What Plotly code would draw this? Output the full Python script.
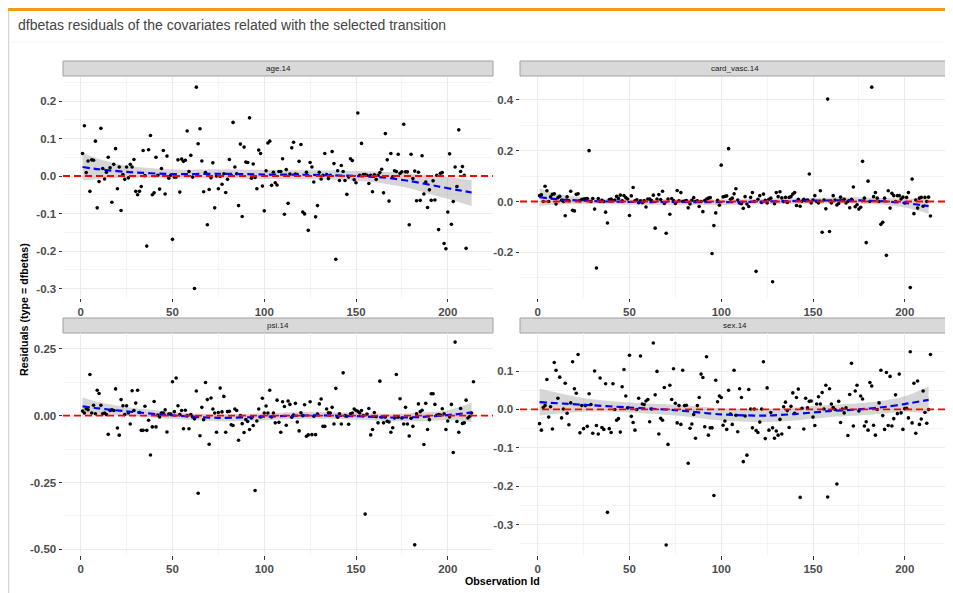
import plotly.graph_objects as go

# ---------------- data ----------------
age_vals = [0.06, 0.134, 0.009, 0.04, -0.041, 0.043, 0.042, 0.093, -0.085, -0.015, 0.127, 0.02, -0.008, 0.01, 0.05,
            0.022, -0.07, 0.031, 0.073, -0.034, 0.024, -0.092, 0.004, -0.009, 0.024, -0.005, 0.031, 0.024, 0.044,
            -0.041, -0.05, -0.041, -0.028, 0.068, 0.001, -0.187, 0.07, 0.108, -0.05, -0.045, 0.05, 0.002, -0.035,
            0.02, 0.068, -0.048, 0.053, -0.006, 0.002, -0.169, -0.003, -0.003, 0.043, -0.043, 0.045, 0.039, 0.042,
            0.12, 0.012, 0.055, -0.003, -0.3, 0.237, 0.086, 0.126, 0.04, -0.042, 0.009, -0.13, -0.036, -0.005, 0.035,
            -0.085, 0.0, -0.034, -0.001, -0.022, 0.006, -0.044,
            -0.009, 0.044, 0.002, 0.143, 0.024, 0.006, -0.079, 0.085, -0.108, 0.077, 0.037, 0.036, 0.155, -0.006,
            0.032, -0.004, -0.034, 0.069, 0.06, -0.027, -0.093, 0.014, 0.088, 0.093, -0.025, 0.01, -0.018, -0.024,
            0.012, 0.012, 0.046, -0.102, 0.017, -0.073, 0.005, 0.075, 0.09, 0.005, 0.004, 0.039, 0.084, -0.096,
            -0.101, 0.01, -0.145, 0.036, 0.024, -0.016, -0.109, -0.079, 0.01, -0.008, 0.002, 0.06, 0.004, -0.007,
            0.002, 0.065, 0.033, -0.222, 0.014, -0.012, 0.028, 0.012, -0.012, -0.049, -0.003, 0.046, 0.041, -0.01,
            -0.018, 0.168, 0.002, 0.087, 0.004, 0.004, 0.002, -0.02, 0.002, -0.042, 0.003, -0.009, 0.002, 0.009,
            0.018, -0.045, 0.113, 0.043, -0.067, 0.06, -0.002, 0.014, 0.012, 0.058, 0.007, 0.011, 0.138, 0.011,
            0.011, -0.13, 0.058, -0.007, 0.013, -0.066, 0.01, -0.065, 0.054, -0.048, -0.016, -0.084, -0.037, -0.065,
            -0.013, -0.064, 0.002, -0.143, 0.007, 0.009, -0.18, -0.194, -0.096, 0.059, -0.129, -0.068, 0.024,
            -0.028, 0.123, 0.012, 0.025, 0.002, -0.193]

card_vals = [0.023, 0.026, 0.0, 0.06, 0.042, 0.0, 0.018, 0.028, 0.03, -0.01, 0.015, 0.02, 0.005, 0.0, -0.056, 0.018,
             0.003, 0.04, -0.035, -0.037, 0.028, 0.03, 0.003, 0.008, 0.01, 0.011, 0.012, 0.2, 0.0, 0.012, -0.03,
             -0.262, 0.012, 0.0, 0.005, 0.0, -0.042, -0.085, 0.008, 0.01, 0.003, 0.006, 0.02, 0.012, 0.025, 0.003,
             0.023, 0.015, 0.01, -0.055, 0.022, 0.055, 0.003, 0.007, -0.005, 0.003, -0.005, 0.004, -0.022, 0.01,
             0.01, 0.004, 0.025, -0.105, 0.01, 0.027, 0.008, 0.04, -0.008, -0.125, 0.01, -0.05, 0.012, 0.004,
             -0.008, 0.043, 0.003, 0.035, 0.0, 0.002, 0.004, -0.025, -0.01, 0.005, 0.015, 0.0, 0.003, -0.02, 0.0,
             -0.04, 0.004, 0.01, 0.013, 0.015, -0.205, -0.095, -0.045, 0.005, -0.015,
             0.143, 0.018, 0.02, 0.022, 0.208, 0.009, 0.013, 0.03, 0.05, 0.006, -0.006, -0.009, -0.027, 0.019,
             -0.01, -0.02, 0.016, 0.035, 0.0, -0.275, 0.009, 0.023, -0.004, 0.029, 0.005, -0.006, 0.009, 0.013,
             -0.316, -0.009, 0.035, 0.019, 0.038, 0.014, 0.0, 0.016, -0.004, 0.016, 0.019, 0.029, 0.035, -0.016,
             0.009, -0.019, 0.001, 0.009, 0.003, 0.006, 0.108, -0.006, 0.006, 0.023, 0.0, -0.006, 0.042, -0.121,
             0.006, -0.029, 0.403, -0.118, -0.006, 0.023, 0.006, -0.014, -0.008, 0.017, 0.004, 0.009, -0.006, 0.0,
             -0.025, 0.009, 0.057, -0.021, -0.013, -0.03, -0.023, 0.158, 0.013, -0.162, 0.08, 0.0, 0.45, 0.019,
             0.035, 0.013, 0.0, -0.09, -0.082, 0.013, -0.212, 0.042, -0.026, 0.032, 0.023, 0.0, 0.023, 0.023, 0.01,
             0.017, -0.006, 0.016, 0.035, -0.339, 0.088, -0.048, 0.006, -0.026, 0.013, 0.016, -0.019, 0.016, 0.0,
             0.017, -0.057]

psi_vals = [0.017, 0.01, 0.026, 0.022, 0.154, 0.01, 0.039, 0.007, 0.095, 0.083, 0.039, 0.007, 0.01, 0.004, -0.07,
            0.019, 0.022, 0.019, 0.1, -0.046, -0.073, 0.06, 0.037, 0.004, 0.037, 0.01, -0.031, 0.093, 0.019, 0.047,
            0.095, 0.012, -0.055, -0.055, 0.035, -0.055, -0.017, -0.147, -0.042, 0.053, -0.042, 0.002, -0.005, 0.01,
            0.01, 0.022, -0.061, 0.006, 0.006, 0.127, 0.015, 0.141, 0.037, 0.004, 0.019, -0.049, 0.02, 0.0, -0.049,
            0.004, -0.005, -0.012, 0.092, -0.29, -0.075, 0.031, -0.015, 0.124, 0.06, -0.107, 0.066, 0.025, 0.01,
            -0.062, 0.012, 0.103, 0.014, 0.072, -0.062, 0.015, 0.016, -0.034, -0.037, 0.025, 0.019,
            -0.092, 0.0, -0.03, -0.063, -0.015, -0.022, -0.052, -0.009, -0.037, -0.28, -0.02, 0.025, -0.005, 0.065,
            0.01, 0.036, 0.01, 0.095, -0.005, 0.01, -0.027, 0.058, -0.025, -0.062, 0.052, 0.034, -0.036, 0.055,
            0.042, -0.006, 0.002, 0.046, -0.024, -0.057, 0.011, 0.0, 0.041, -0.077, -0.072, 0.052, -0.071, -0.002,
            -0.071, 0.006, 0.044, 0.062, -0.04, -0.04, 0.025, 0.011, 0.01, 0.031, -0.031, 0.102, -0.006, 0.007,
            -0.031, 0.16, 0.0, -0.002, -0.032, 0.007, 0.01, 0.025, 0.019, 0.016, 0.01, 0.019, 0.0, -0.368, 0.006,
            0.027, -0.072, -0.052, 0.012, -0.004, -0.027, 0.129, -0.005, -0.027, -0.005, -0.021, -0.024, -0.062,
            -0.045, -0.009, 0.154, -0.006, 0.063, -0.009, -0.031, 0.031, -0.031, -0.076, -0.01, -0.04, -0.483,
            0.007, 0.044, 0.015, 0.02, -0.108, 0.046, -0.052, -0.015, 0.082, 0.082, 0.042, 0.001, 0.004, 0.002,
            0.026, 0.007, -0.052, -0.02, -0.005, 0.042, -0.138, 0.275, -0.022, -0.062, 0.027, -0.029, -0.027,
            0.058, -0.009, -0.002, 0.01, 0.127]

sex_vals = [-0.037, -0.054, 0.005, 0.01, 0.078, -0.02, 0.007, -0.051, 0.122, 0.102, 0.029, 0.084, -0.022, 0.001,
            0.068, -0.01, -0.04, 0.017, 0.124, 0.054, 0.042, 0.143, -0.061, 0.01, -0.05, 0.01, -0.044, 0.041,
            0.013, -0.062, 0.1, -0.042, -0.064, 0.082, -0.047, -0.052, 0.067, -0.268, -0.05, -0.06, 0.067, 0.0,
            -0.028, -0.024, -0.059, 0.059, 0.104, 0.035, 0.004, 0.141, -0.018, -0.034, -0.054, 0.0, 0.029, 0.139,
            0.014, 0.013, 0.022, 0.026, -0.032, 0.001, 0.173, 0.038, 0.099, -0.064, -0.023, -0.028, 0.057, -0.353,
            -0.091, 0.063, 0.026, 0.106, 0.016, -0.035, 0.01, -0.039, 0.102, 0.01, 0.011, -0.14, -0.049, -0.038,
            -0.013, -0.075, 0.01, 0.031, 0.092, 0.083, -0.045, 0.137, -0.067, -0.048, -0.048, -0.224, 0.076, 0.02,
            0.035, 0.031, -0.041, -0.03, -0.052, 0.05, -0.012,
            -0.039, 0.102, -0.015, -0.058, 0.054, 0.031, -0.136, -0.017, -0.119, 0.052, 0.001, -0.048, 0.001,
            -0.055, -0.06, -0.033, 0.001, 0.124, -0.076, 0.056, -0.054, -0.008, -0.048, -0.075, -0.056, -0.067,
            -0.026, -0.064, 0.007, 0.019, -0.003, -0.047, 0.008, 0.043, -0.01, 0.031, 0.053, -0.229, 0.003, -0.051,
            0.029, 0.004, 0.021, 0.022, -0.02, -0.042, 0.014, 0.033, 0.014, 0.044, 0.001, 0.063, -0.228, 0.054,
            0.014, 0.005, 0.0, -0.194, 0.021, -0.034, 0.001, -0.009, 0.004, -0.068, 0.039, 0.12, -0.043, 0.048,
            0.063, -0.004, 0.035, 0.027, -0.043, -0.032, -0.054, 0.07, 0.061, -0.041, -0.067, 0.0, 0.017, 0.102,
            -0.016, -0.052, 0.096, -0.042, 0.086, -0.043, -0.024, 0.038, -0.011, 0.092, -0.009, -0.052, 0.002,
            0.003, -0.022, 0.15, -0.035, 0.068, -0.062, 0.074, -0.039, -0.025, 0.048, -0.008, -0.036, 0.0, 0.143]

# smooth (loess) curves and their confidence bands, read at a few ids
age_sx = [1, 10, 25, 50, 75, 100, 125, 150, 165, 180, 195, 205, 213]
age_fit = [0.024, 0.018, 0.011, 0.005, 0.006, 0.004, 0.003, 0.0, -0.004, -0.014, -0.028, -0.037, -0.044]
age_hi = [0.062, 0.045, 0.027, 0.017, 0.018, 0.016, 0.015, 0.013, 0.011, 0.006, -0.001, -0.006, -0.011]
age_lo = [-0.012, -0.008, -0.005, -0.007, -0.006, -0.008, -0.009, -0.013, -0.02, -0.034, -0.055, -0.068, -0.08]

card_sx = [1, 10, 25, 50, 75, 100, 125, 150, 170, 190, 200, 213]
card_fit = [0.017, 0.009, 0.003, -0.002, -0.002, -0.003, 0.0, 0.003, 0.005, 0.0, -0.006, -0.018]
card_hi = [0.052, 0.03, 0.016, 0.009, 0.009, 0.008, 0.011, 0.014, 0.017, 0.014, 0.012, 0.012]
card_lo = [-0.018, -0.012, -0.01, -0.013, -0.013, -0.014, -0.011, -0.008, -0.007, -0.014, -0.024, -0.048]

psi_sx = [1, 10, 25, 50, 75, 100, 125, 150, 170, 185, 200, 213]
psi_fit = [0.035, 0.027, 0.016, 0.001, -0.008, -0.004, 0.001, -0.002, -0.007, -0.005, 0.002, 0.012]
psi_hi = [0.068, 0.05, 0.032, 0.014, 0.005, 0.009, 0.014, 0.011, 0.007, 0.011, 0.02, 0.048]
psi_lo = [0.002, 0.004, 0.0, -0.012, -0.021, -0.017, -0.012, -0.015, -0.021, -0.021, -0.016, -0.024]

sex_sx = [1, 25, 50, 75, 100, 125, 140, 160, 175, 190, 200, 213]
sex_fit = [0.019, 0.012, 0.005, -0.002, -0.013, -0.016, -0.012, -0.004, 0.0, 0.007, 0.014, 0.025]
sex_hi = [0.054, 0.03, 0.018, 0.012, 0.003, 0.001, 0.005, 0.012, 0.016, 0.024, 0.034, 0.06]
sex_lo = [-0.016, -0.006, -0.008, -0.016, -0.029, -0.033, -0.029, -0.02, -0.016, -0.01, -0.006, -0.01]

strip_labels = ["age.14", "card_vasc.14", "psi.14", "sex.14"]
x_ticks = [0, 50, 100, 150, 200]
x_minor = [25, 75, 125, 175]
age_yticks = [-0.3, -0.2, -0.1, 0.0, 0.1, 0.2]
card_yticks = [-0.2, 0.0, 0.2, 0.4]
psi_yticks = [-0.5, -0.25, 0.0, 0.25]
sex_yticks = [-0.3, -0.2, -0.1, 0.0, 0.1]

title_text = "dfbetas residuals of the covariates related with the selected transition"
y_title = "Residuals (type = dfbetas)"
x_title = "Observation Id"

# ---------------- layout geometry (window pixels) ----------------
# the page body has an 8px margin, so the figure starts 8px in from the window corner
OFF = 8
W, H = 953 - OFF, 593 - OFF
FONT = "Liberation Sans"


def fx(p):
    return (p - OFF) / W


def fy(p):
    return 1 - (p - OFF) / H


panels = [
    dict(vals=age_vals, sx=age_sx, fit=age_fit, hi=age_hi, lo=age_lo, yt=age_yticks, fmt="{:.1f}",
         yr=[-0.324, 0.264], px=(63, 493), py=(77, 297.5), strip=(61, 76)),
    dict(vals=card_vals, sx=card_sx, fit=card_fit, hi=card_hi, lo=card_lo, yt=card_yticks, fmt="{:.1f}",
         yr=[-0.378, 0.49], px=(520, 950), py=(77, 297.5), strip=(61, 76)),
    dict(vals=psi_vals, sx=psi_sx, fit=psi_fit, hi=psi_hi, lo=psi_lo, yt=psi_yticks, fmt="{:.2f}",
         yr=[-0.521, 0.309], px=(63, 493), py=(333, 555), strip=(318, 333)),
    dict(vals=sex_vals, sx=sex_sx, fit=sex_fit, hi=sex_hi, lo=sex_lo, yt=sex_yticks, fmt="{:.1f}",
         yr=[-0.379, 0.199], px=(520, 950), py=(333, 555), strip=(318, 333)),
]

fig = go.Figure()
layout = dict(
    width=W, height=H, margin=dict(l=0, r=0, t=0, b=0),
    paper_bgcolor="white", plot_bgcolor="white", showlegend=False,
    font=dict(family=FONT), shapes=[], annotations=[],
)

tickfont = dict(family=FONT, size=11.5, color="#4d4d4d", weight="bold")

for i, p in enumerate(panels):
    k = "" if i == 0 else str(i + 1)
    xa, ya = "x" + k, "y" + k
    ids = list(range(1, len(p["vals"]) + 1))
    # confidence band
    fig.add_trace(go.Scatter(x=p["sx"], y=p["lo"], xaxis=xa, yaxis=ya, mode="lines",
                             line=dict(width=0, shape="spline", smoothing=0.8), hoverinfo="skip"))
    fig.add_trace(go.Scatter(x=p["sx"], y=p["hi"], xaxis=xa, yaxis=ya, mode="lines", fill="tonexty",
                             fillcolor="rgba(153,153,153,0.4)",
                             line=dict(width=0, shape="spline", smoothing=0.8), hoverinfo="skip"))
    # points
    fig.add_trace(go.Scatter(x=ids, y=p["vals"], xaxis=xa, yaxis=ya, mode="markers",
                             marker=dict(color="black", size=3.6)))
    # smooth line
    fig.add_trace(go.Scatter(x=p["sx"], y=p["fit"], xaxis=xa, yaxis=ya, mode="lines",
                             line=dict(color="#0000ff", width=2.2, dash="7px,4px", shape="spline",
                                       smoothing=0.8)))
    yt = p["yt"]
    ystep = yt[1] - yt[0]
    yminor = [v + ystep / 2 for v in [yt[0] - ystep] + yt]
    layout["xaxis" + k] = dict(
        domain=[fx(p["px"][0]), fx(p["px"][1])], anchor=ya, range=[-9.65, 224.65],
        tickmode="array", tickvals=x_ticks, ticktext=[str(v) for v in x_ticks],
        showgrid=True, gridcolor="#ebebeb", gridwidth=1, zeroline=False, showline=False,
        ticks="outside", ticklen=3.5, tickcolor="#333333", tickwidth=1, tickfont=tickfont,
        minor=dict(tickmode="array", tickvals=x_minor, showgrid=True, gridcolor="#f4f4f4", gridwidth=1,
                   ticks=""),
    )
    layout["yaxis" + k] = dict(
        domain=[fy(p["py"][1]), fy(p["py"][0])], anchor=xa, range=p["yr"],
        tickmode="array", tickvals=yt, ticktext=[p["fmt"].format(v) for v in yt],
        showgrid=True, gridcolor="#ebebeb", gridwidth=1, zeroline=False, showline=False,
        ticks="outside", ticklen=3.5, tickcolor="#333333", tickwidth=1, tickfont=tickfont,
        minor=dict(tickmode="array", tickvals=yminor, showgrid=True, gridcolor="#f4f4f4", gridwidth=1,
                   ticks=""),
    )
    # zero reference line
    layout["shapes"].append(dict(type="line", xref=xa + " domain", yref=ya, x0=0, x1=1, y0=0, y1=0,
                                 line=dict(color="#ff0000", width=1.8, dash="7px,4px"), layer="above"))
    # strip
    layout["shapes"].append(dict(type="rect", xref="paper", yref="paper",
                                 x0=fx(p["px"][0]), x1=fx(p["px"][1]),
                                 y0=fy(p["strip"][1]), y1=fy(p["strip"][0]),
                                 fillcolor="#d9d9d9", line=dict(color="#a0a0a0", width=1), layer="below"))
    layout["annotations"].append(dict(text=strip_labels[i], xref="paper", yref="paper",
                                      x=fx((p["px"][0] + p["px"][1]) / 2),
                                      y=fy((p["strip"][0] + p["strip"][1]) / 2),
                                      showarrow=False, xanchor="center", yanchor="middle",
                                      font=dict(family=FONT, size=8, color="#1a1a1a")))

# header box decorations
layout["shapes"].append(dict(type="line", xref="paper", yref="paper", x0=fx(8.5), x1=fx(8.5), y0=0, y1=fy(9),
                             line=dict(color="#d2d6de", width=1.5)))
layout["shapes"].append(dict(type="line", xref="paper", yref="paper", x0=fx(8), x1=1, y0=fy(9.5), y1=fy(9.5),
                             line=dict(color="#f39c12", width=3)))
layout["shapes"].append(dict(type="line", xref="paper", yref="paper", x0=fx(9), x1=1, y0=fy(42), y1=fy(42),
                             line=dict(color="#f4f4f4", width=1)))

layout["annotations"].append(dict(text=title_text, xref="paper", yref="paper", x=fx(16), y=fy(25),
                                  showarrow=False, xanchor="left", yanchor="middle",
                                  font=dict(family=FONT, size=14, color="#444444")))
layout["annotations"].append(dict(text=y_title, xref="paper", yref="paper", x=fx(24), y=fy(310),
                                  showarrow=False, xanchor="center", yanchor="middle", textangle=-90,
                                  font=dict(family=FONT, size=10.7, color="black", weight="bold")))
layout["annotations"].append(dict(text=x_title, xref="paper", yref="paper", x=fx(502), y=fy(580.5),
                                  showarrow=False, xanchor="center", yanchor="middle",
                                  font=dict(family=FONT, size=10.7, color="black", weight="bold")))

fig.update_layout(**layout)
fig.write_html("out.html")
